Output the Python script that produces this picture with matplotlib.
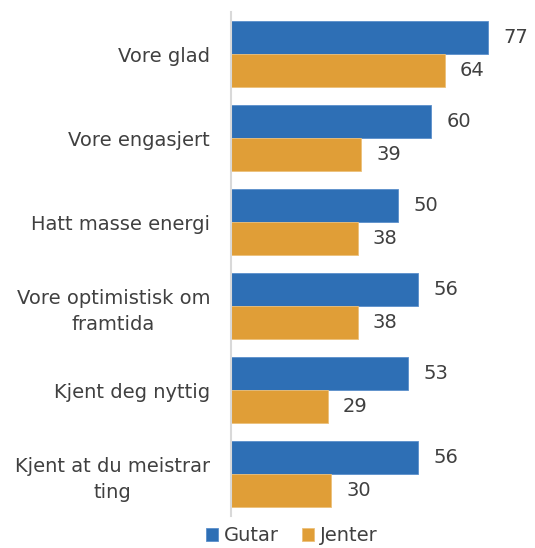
import numpy as np
import matplotlib.pyplot as plt

categories = ["Vore glad", "Vore engasjert", "Hatt masse energi",
              "Vore optimistisk om\nframtida", "Kjent deg nyttig",
              "Kjent at du meistrar\nting"]
gutar = [77, 60, 50, 56, 53, 56]
jenter = [64, 39, 38, 38, 29, 30]

blue = '#2E6FB5'
orange = '#E09E37'
textcol = '#404040'
fs = 14

fig = plt.figure(figsize=(5.35, 5.48), dpi=100)
ax = fig.add_axes([231/535, 32/548, 1 - 231/535, 504/548])

y = np.arange(len(categories))
h = 0.39
ax.barh(y - h/2, gutar, h, color=blue, edgecolor='#5b8fcb', linewidth=0.6, label='Gutar')
ax.barh(y + h/2, jenter, h, color=orange, edgecolor='#ecc07a', linewidth=0.6, label='Jenter')

for i in range(len(categories)):
    ax.text(gutar[i] + 4.5, y[i] - h/2, str(gutar[i]), va='center', ha='left',
            fontsize=fs, color=textcol)
    ax.text(jenter[i] + 4.5, y[i] + h/2, str(jenter[i]), va='center', ha='left',
            fontsize=fs, color=textcol)

ax.set_xlim(0, 91)
ax.set_ylim(len(categories) - 0.5, -0.5)
ax.set_yticks(y)
ax.set_yticklabels(categories, fontsize=fs, color=textcol, multialignment='center',
                   linespacing=1.45)
ax.tick_params(axis='y', length=0, pad=15)
ax.set_xticks([])
for s in ['top', 'right', 'bottom']:
    ax.spines[s].set_visible(False)
ax.spines['left'].set_color('#d9d9d9')
ax.spines['left'].set_linewidth(1.5)

fig.legend(loc='lower center', bbox_to_anchor=(292/535, -0.027), ncol=2, frameon=False,
           fontsize=fs, handlelength=0.6, handleheight=0.6, handletextpad=0.3,
           columnspacing=1.2, labelcolor=textcol)

fig.savefig('out.png', dpi=100)
